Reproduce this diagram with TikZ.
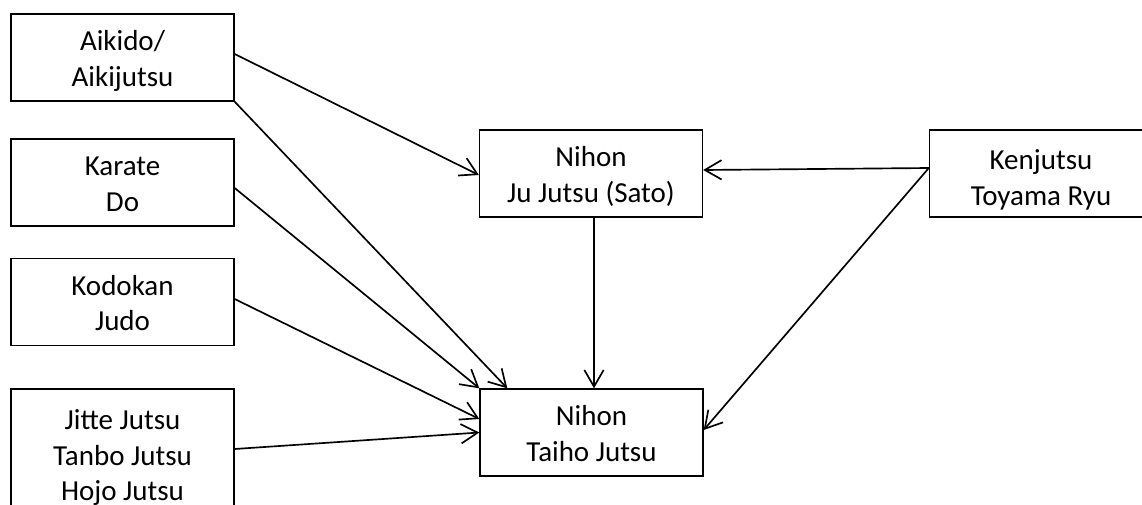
\documentclass[tikz,border=0pt]{standalone}
\usepackage{fontspec}
\setmainfont{Carlito}
\usetikzlibrary{arrows.meta}
\newcommand{\bas}[2][0.08cm]{\raisebox{-#1}[\height][\depth]{\begin{tabular}{@{}c@{}}#2\end{tabular}}}

\begin{document}
\begin{tikzpicture}[x=0.02cm, y=-0.02cm]
\tikzset{boite/.style={draw, line width=0.8pt, minimum width=4.46cm, minimum height=1.74cm, inner sep=0pt, font=\fontsize{16.5}{20.2}\selectfont},
fleche/.style={line width=0.95pt, -{Straight Barb[length=9.5pt, width=11pt]}}}
\useasboundingbox (0, 0) rectangle (1142, 504);
\clip (0, 0) rectangle (1142, 504);
\node[boite] (aiki) at (122.5, 57.5) {\bas{Aikido/\\Aikijutsu}};
\node[boite] (karate) at (122.5, 182.5) {\bas{Karate\\Do}};
\node[boite] (kodokan) at (122.5, 302) {\bas{Kodokan\\Judo}};
\node[boite, minimum height=2.6cm] (jitte) at (122.5, 454) {\bas{Jitte Jutsu\\Tanbo Jutsu\\Hojo Jutsu}};
\node[boite] (jujutsu) at (591, 173.5) {\bas{Nihon\\Ju Jutsu (Sato)}};
\node[boite] (taiho) at (591.5, 432.5) {\bas{Nihon\\Taiho Jutsu}};
\node[boite] (kenjutsu) at (1041, 173.5) {\bas[0.14cm]{Kenjutsu\\Toyama Ryu}};
\coordinate (kenout) at ([yshift=0.11cm]kenjutsu.west);
\draw[fleche] ([yshift=0.07cm]aiki.east) -- ([yshift=-0.03cm]jujutsu.west);
\draw[fleche] (aiki.south east) -- ([xshift=0.56cm]taiho.north west);
\draw[fleche] ([yshift=-0.11cm]karate.east) -- (taiho.north west);
\draw[fleche] ([yshift=0.06cm]kodokan.east) -- ([yshift=0.27cm]taiho.west);
\draw[fleche] ([yshift=0.1cm]jitte.east) -- (taiho.west);
\draw[fleche] ([xshift=0.06cm]jujutsu.south) -- ([xshift=0.05cm]taiho.north);
\draw[fleche] (kenout) -- ([yshift=0.07cm]jujutsu.east);
\draw[fleche] (kenout) -- ([yshift=0.05cm]taiho.east);
\end{tikzpicture}
\end{document}
